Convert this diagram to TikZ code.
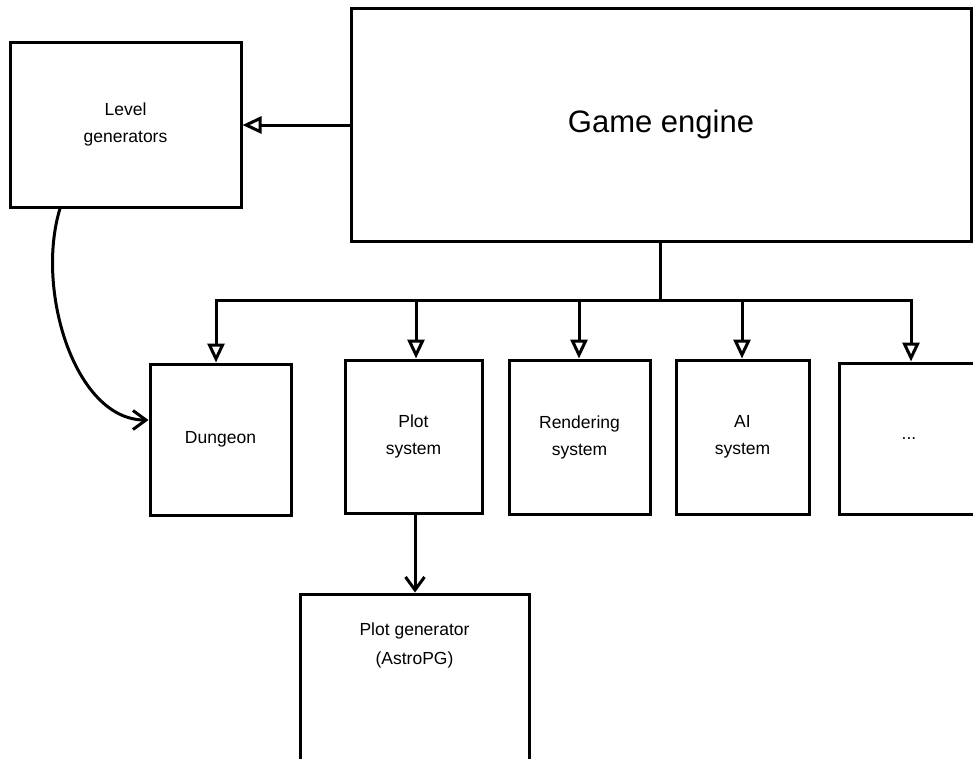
\documentclass[tikz,border=0pt]{standalone}
\usepackage{fontspec}
\setmainfont{Liberation Sans}
\usetikzlibrary{arrows.meta}
\begin{document}
\begin{tikzpicture}[x=1pt,y=-1pt,
  box/.style={draw=black,line width=3pt,fill=white,rectangle,inner sep=0pt,align=center,
    font=\fontsize{17.5}{27}\selectfont},
  bigtext/.style={font=\fontsize{31}{36}\selectfont},
  lbl/.style={align=center,inner sep=0pt,font=\fontsize{17.5}{29}\selectfont},
  conn/.style={line width=3pt,draw=black},
  tri/.style={conn,-{Triangle[open,length=19pt,width=17pt,line width=3pt]}},
  barb/.style={conn,-{Straight Barb[length=13pt,width=19pt,line width=3pt]}}
]
\useasboundingbox (0,0) rectangle (973,758);
\clip (0,0) rectangle (973,758);
\fill[white] (0,0) rectangle (973,758);

\node[box,minimum width=231pt,minimum height=165pt] (lev) at (125.5,124.5) {Level\\generators};
\node[box,bigtext,minimum width=620pt,minimum height=233pt] (eng) at (661,124.5) {Game engine};

\node[box,minimum width=141pt,minimum height=151pt] (dun) at (220.5,439.5) {Dungeon};
\node[box,minimum width=137pt,minimum height=153pt] (plot) at (413.5,436.5) {Plot\\system};
\node[box,minimum width=141pt,minimum height=154pt] (rend) at (579.5,437) {Rendering\\system};
\node[box,minimum width=133pt,minimum height=154pt] (ai) at (742.5,437) {AI\\system};
\node[box,minimum width=140pt,minimum height=151pt] (dots) at (909,438.5) {...};

\node[box,minimum width=229pt,minimum height=200pt] (pgen) at (414.5,694) {};
\node[lbl] (pgentext) at (414.5,645) {Plot generator\\(AstroPG)};

\draw[tri] (eng.west |- 0,125) -- (lev.east |- 0,125);

\coordinate (j) at (660,300);
\draw[conn] (eng.south -| j) -- (j);
\draw[tri] (j) -| (dun.north -| 216,0);
\draw[tri] (j) -| (plot.north -| 416,0);
\draw[tri] (j) -| (rend.north -| 579,0);
\draw[tri] (j) -| (ai.north -| 742,0);
\draw[tri] (j) -| (dots.north -| 911,0);

\draw[barb] (plot.south -| 415,0) -- (pgen.north -| 415,0);

\draw[barb] (lev.south -| 60,0) .. controls (35,290) and (75,420) .. (dun.west |- 0,420);
\end{tikzpicture}
\end{document}
